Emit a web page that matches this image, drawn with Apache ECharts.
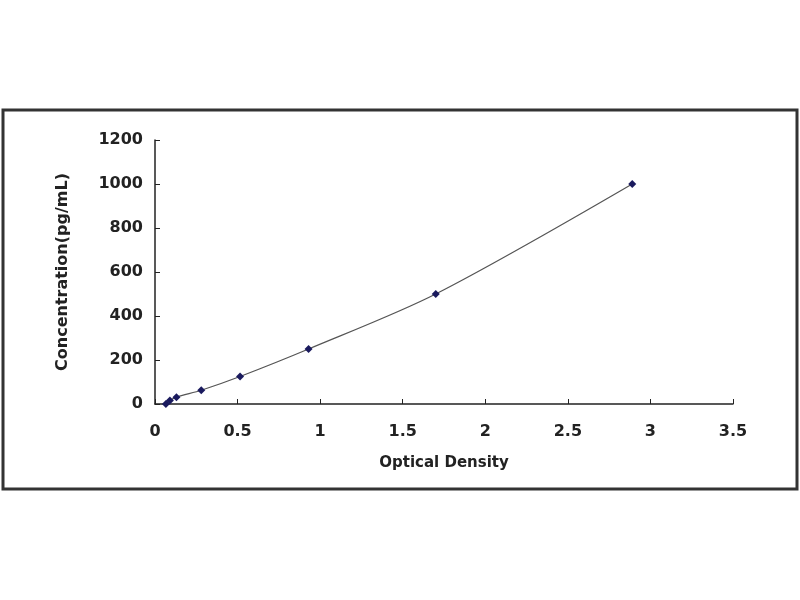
<!DOCTYPE html>
<html><head><meta charset="utf-8">
<script src="https://cdn.jsdelivr.net/npm/echarts@6/dist/echarts.min.js"></script>
<style>html,body{margin:0;padding:0;background:#fff}#c{width:800px;height:600px}</style>
</head><body><div id="c"></div>
<script>
const opticalDensity = [0.066, 0.09, 0.13, 0.28, 0.515, 0.93, 1.70, 2.89];
const concentration = [0, 15.6, 31.25, 62.5, 125, 250, 500, 1000];
const xTicks = {min: 0, max: 3.5, interval: 0.5};
const yTicks = {min: 0, max: 1200, interval: 200};

const pts = opticalDensity.map((x, i) => [x, concentration[i]]);
const chart = echarts.init(document.getElementById('c'));
const font = '"DejaVu Sans", Arial, sans-serif';
chart.setOption({
  backgroundColor: '#fff',
  animation: false,
  graphic: [{
    type: 'rect', z: -1,
    shape: {x: 3, y: 110, width: 794, height: 379},
    style: {fill: '#fff', stroke: '#333', lineWidth: 3}
  }],
  grid: {left: 155, right: 67, top: 140, bottom: 196},
  xAxis: {
    type: 'value', min: xTicks.min, max: xTicks.max, interval: xTicks.interval,
    name: 'Optical Density', nameLocation: 'middle', nameGap: 52,
    nameTextStyle: {fontFamily: font, fontWeight: 'bold', fontSize: 15, color: '#222'},
    axisLine: {show: true, lineStyle: {color: '#222', width: 1.5}},
    axisTick: {show: true, inside: true, length: 5, lineStyle: {color: '#222'}},
    axisLabel: {fontFamily: font, fontWeight: 'bold', fontSize: 16, color: '#222', margin: 20, formatter: v => String(v)},
    splitLine: {show: false}
  },
  yAxis: {
    type: 'value', min: yTicks.min, max: yTicks.max, interval: yTicks.interval,
    name: 'Concentration(pg/mL)', nameLocation: 'middle', nameGap: 84,
    nameTextStyle: {fontFamily: font, fontWeight: 'bold', fontSize: 16, color: '#222'},
    axisLine: {show: true, lineStyle: {color: '#222', width: 1.5}},
    axisTick: {show: true, inside: true, length: 5, lineStyle: {color: '#222'}},
    axisLabel: {fontFamily: font, fontWeight: 'bold', fontSize: 16, color: '#222', margin: 12, formatter: v => String(v)},
    splitLine: {show: false}
  },
  series: [{
    type: 'line', data: pts, smooth: 0.3,
    symbol: 'diamond', symbolSize: 8,
    itemStyle: {color: '#1a1a5e'},
    lineStyle: {color: '#555', width: 1.2}
  }]
});
</script></body></html>
